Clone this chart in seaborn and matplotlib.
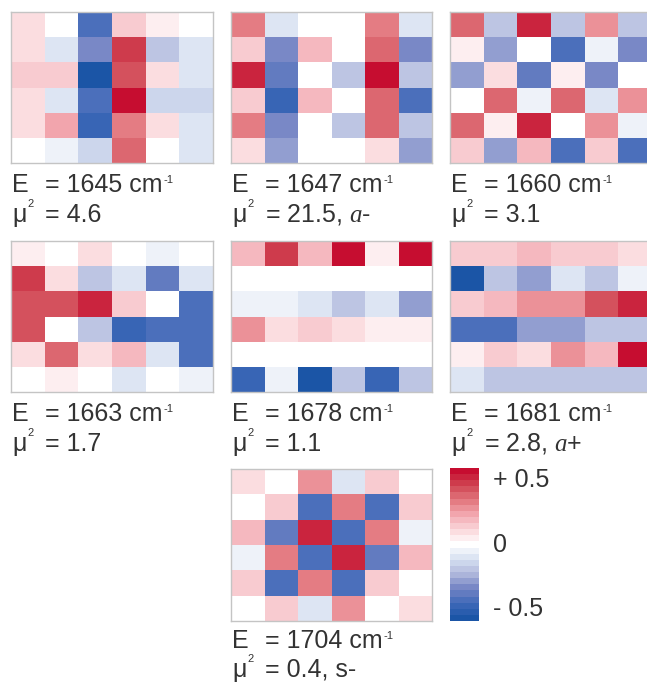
import numpy as np
import pandas as pd
import seaborn as sns
import matplotlib
matplotlib.use("Agg")
import matplotlib.pyplot as plt
from matplotlib.colors import LinearSegmentedColormap

# ---------------- data ----------------
energies = [1645, 1647, 1660, 1663, 1678, 1681, 1704]
mu2_labels = ["4.6", "21.5, $a$-", "3.1", "1.7", "1.1", "2.8, $a$+", "0.4, s-"]

mode_1645 = [
    [0.07, 0.00, -0.35, 0.12, 0.04, 0.00],
    [0.07, -0.10, -0.28, 0.40, -0.17, -0.10],
    [0.12, 0.12, -0.50, 0.36, 0.07, -0.10],
    [0.07, -0.10, -0.38, 0.50, -0.14, -0.14],
    [0.07, 0.18, -0.40, 0.28, 0.07, -0.10],
    [0.00, -0.05, -0.14, 0.33, 0.00, -0.10],
]
mode_1647 = [
    [0.26, -0.10, 0.00, 0.00, 0.27, -0.10],
    [0.10, -0.30, 0.17, 0.00, 0.30, -0.27],
    [0.42, -0.33, 0.00, -0.18, 0.47, -0.15],
    [0.10, -0.42, 0.17, 0.00, 0.33, -0.38],
    [0.28, -0.30, 0.00, -0.18, 0.30, -0.15],
    [0.06, -0.25, 0.00, 0.00, 0.06, -0.25],
]
mode_1660 = [
    [0.30, -0.15, 0.42, -0.18, 0.24, -0.15],
    [0.04, -0.23, 0.00, -0.38, -0.05, -0.30],
    [-0.23, 0.07, -0.33, 0.04, -0.30, 0.00],
    [0.00, 0.30, -0.05, 0.33, -0.10, 0.24],
    [0.30, 0.04, 0.42, 0.00, 0.24, -0.05],
    [0.10, -0.23, 0.17, -0.38, 0.10, -0.35],
]
mode_1663 = [
    [0.04, 0.00, 0.08, 0.00, -0.04, 0.00],
    [0.40, 0.08, -0.15, -0.10, -0.33, -0.10],
    [0.36, 0.37, 0.45, 0.10, 0.00, -0.38],
    [0.36, 0.00, -0.15, -0.42, -0.36, -0.38],
    [0.08, 0.30, 0.08, 0.14, -0.10, -0.38],
    [0.00, 0.03, 0.00, -0.10, 0.00, -0.06],
]
mode_1678 = [
    [0.17, 0.40, 0.17, 0.50, 0.04, 0.46],
    [0.00, 0.00, 0.00, 0.00, 0.00, 0.00],
    [-0.05, -0.04, -0.10, -0.15, -0.10, -0.25],
    [0.24, 0.07, 0.10, 0.07, 0.03, 0.04],
    [0.00, 0.00, 0.00, 0.00, 0.00, 0.00],
    [-0.40, -0.05, -0.47, -0.18, -0.40, -0.18],
]
mode_1681 = [
    [0.10, 0.10, 0.17, 0.10, 0.13, 0.07],
    [-0.46, -0.18, -0.23, -0.10, -0.15, -0.04],
    [0.10, 0.17, 0.25, 0.24, 0.36, 0.42],
    [-0.37, -0.35, -0.23, -0.23, -0.18, -0.15],
    [0.03, 0.10, 0.07, 0.24, 0.17, 0.50],
    [-0.10, -0.15, -0.15, -0.18, -0.15, -0.15],
]
mode_1704 = [
    [0.07, 0.00, 0.25, -0.10, 0.10, 0.00],
    [0.00, 0.10, -0.35, 0.28, -0.38, 0.10],
    [0.17, -0.33, 0.42, -0.38, 0.27, -0.04],
    [-0.04, 0.27, -0.38, 0.42, -0.33, 0.17],
    [0.10, -0.38, 0.28, -0.35, 0.10, 0.00],
    [0.00, 0.10, -0.10, 0.25, 0.00, 0.07],
]
modes = [mode_1645, mode_1647, mode_1660, mode_1663, mode_1678, mode_1681, mode_1704]

cbar_ticks = [0.5, 0.0, -0.5]
cbar_ticklabels = ["+ 0.5", "0", "- 0.5"]

# ---------------- style ----------------
sns.set_theme(style="white")
plt.rcParams["font.family"] = ["Liberation Sans", "DejaVu Sans"]
plt.rcParams["mathtext.fontset"] = "custom"
plt.rcParams["mathtext.rm"] = "Liberation Sans"
plt.rcParams["mathtext.it"] = "Liberation Serif:italic"
plt.rcParams["mathtext.bf"] = "Liberation Sans:bold"

cmap = LinearSegmentedColormap.from_list(
    "rwb",
    [
        (0.00, "#1B55A6"),
        (0.10, "#3E68B8"),
        (0.20, "#7484C4"),
        (0.30, "#B0B8DC"),
        (0.40, "#D6E0F1"),
        (0.50, "#FFFFFF"),
        (0.60, "#FAD6DA"),
        (0.70, "#F3A9B1"),
        (0.80, "#E3787F"),
        (0.90, "#CF4452"),
        (1.00, "#C60D30"),
    ],
).resampled(25)

W, H = 647, 683
fig = plt.figure(figsize=(W / 100, H / 100), dpi=100)
fig.patch.set_facecolor("white")

def rect(x0, y0, x1, y1):
    return [x0 / W, 1 - y1 / H, (x1 - x0) / W, (y1 - y0) / H]

def fy(ypix):
    return 1 - ypix / H

panel_boxes = [
    (11, 12, 213, 163),
    (231, 12, 432, 163),
    (450, 12, 652, 163),
    (11, 241, 213, 392),
    (231, 241, 432, 392),
    (450, 241, 652, 392),
    (231, 469, 432, 621),
]
cax = fig.add_axes(rect(450, 468, 479, 621))

text_color = "#333333"
fs = 18
sup_fs = 8
heat_axes = []
for i, (box, data) in enumerate(zip(panel_boxes, modes)):
    ax = fig.add_axes(rect(*box))
    heat_axes.append(ax)
    df = pd.DataFrame(data)
    sns.heatmap(df, ax=ax, cmap=cmap, vmin=-0.5, vmax=0.5,
                cbar=(i == 0), cbar_ax=cax if i == 0 else None,
                xticklabels=False, yticklabels=False)
    for sp in ax.spines.values():
        sp.set_visible(True)
        sp.set_color("#C4C4C4")
        sp.set_linewidth(1.0)
    x0 = box[0] + 1
    yb = box[3]
    last = (i == len(modes) - 1)
    # energy line
    base_e = yb + (27 if last else 29)
    fig.text(x0 / W, fy(base_e), "E", fontsize=fs, color=text_color, va="baseline", ha="left")
    t2 = fig.text((x0 + 33) / W, fy(base_e), f"= {energies[i]} cm",
                  fontsize=fs, color=text_color, va="baseline", ha="left")
    ax.annotate("-1", xy=(1.0, H - (base_e - 9)), xycoords=(t2, "figure pixels"),
                xytext=(0.8, 0), textcoords="offset points",
                fontsize=sup_fs, color=text_color, va="baseline", ha="left",
                annotation_clip=False)
    # transition dipole line
    base_m = yb + (56 if last else 59)
    fig.text(x0 / W, fy(base_m), "μ", fontsize=fs, color=text_color, va="baseline", ha="left")
    fig.text((x0 + 15) / W, fy(base_m - 15), "2", fontsize=sup_fs, color=text_color,
             va="baseline", ha="left")
    fig.text((x0 + 33) / W, fy(base_m), f"= {mu2_labels[i]}",
             fontsize=fs, color=text_color, va="baseline", ha="left")

cbar = heat_axes[0].collections[0].colorbar
cbar.outline.set_visible(False)
cbar.set_ticks(cbar_ticks)
cbar.set_ticklabels(cbar_ticklabels)
cax.tick_params(length=0, labelsize=fs, labelcolor=text_color, pad=10)
for lbl, va in zip(cax.get_yticklabels(), ["top", "center", "bottom"]):
    lbl.set_va(va)

fig.savefig("out.png", dpi=100)
